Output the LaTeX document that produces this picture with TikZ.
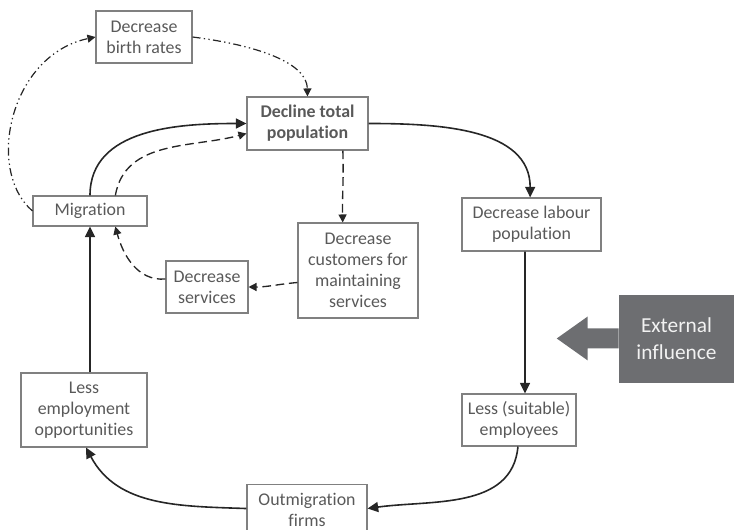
\documentclass[tikz,border=0pt]{standalone}
\usepackage{fontspec}
\setmainfont{Carlito}[Ligatures=NoCommon]
\usetikzlibrary{arrows.meta}
\definecolor{txtgray}{HTML}{595959}
\definecolor{boxgray}{HTML}{808080}
\definecolor{linegray}{HTML}{262626}
\definecolor{extgray}{HTML}{6D6E71}
\begin{document}
\begin{tikzpicture}[x=0.75pt,y=-0.75pt,
    box/.style={draw=boxgray,line width=0.8pt,rectangle,inner sep=0pt,
      align=center,text=txtgray,font=\fontsize{13.4}{15.75}\selectfont},
    solidarrow/.style={draw=linegray,line width=1.2pt,-{Triangle[length=8pt,width=7.5pt]}},
    dasharrow/.style={draw=linegray,line width=1pt,dash pattern=on 6.5pt off 3.5pt,
      -{Triangle[length=6pt,width=6pt]}},
    dotarrow/.style={draw=linegray,line width=0.9pt,
      dash pattern=on 6pt off 2.5pt on 1pt off 2.5pt on 1pt off 2.5pt,
      -{Triangle[length=6pt,width=6pt]}}]
  \useasboundingbox (0,0) rectangle (734,530);
  \node[box,minimum width=96*0.75pt,minimum height=52*0.75pt] (birth) at (144,37) {Decrease\\birth rates};
  \node[box,minimum width=121*0.75pt,minimum height=53*0.75pt,font=\fontsize{13.4}{15.75}\selectfont\bfseries] (decline) at (307.5,123.5) {Decline total\\population};
  \node[box,minimum width=114*0.75pt,minimum height=30*0.75pt] (migration) at (90,211) {Migration};
  \node[box,minimum width=82*0.75pt,minimum height=52*0.75pt] (services) at (207,287) {Decrease\\services};
  \node[box,minimum width=120*0.75pt,minimum height=95*0.75pt] (customers) at (358,270.5) {Decrease\\customers for\\maintaining\\services};
  \node[box,minimum width=139*0.75pt,minimum height=53*0.75pt] (labour) at (531.5,224.5) {Decrease labour\\population};
  \node[box,minimum width=114*0.75pt,minimum height=52*0.75pt] (employees) at (519,420) {Less (suitable)\\employees};
  \node[box,minimum width=126*0.75pt,minimum height=74*0.75pt] (employment) at (84,410) {Less\\employment\\opportunities};
  \node[box,minimum width=120*0.75pt,minimum height=48*0.75pt,anchor=north] (firms) at (307,484) {\rule{0pt}{13pt}Outmigration\\firms\vphantom{g}};
  % external influence
  \node[fill=extgray,minimum width=115*0.75pt,minimum height=88*0.75pt,inner sep=0pt,align=center,
    text=white!90!gray,font=\fontsize{16}{20}\selectfont] (ext) at (676.5,339) {External\\influence};
  \fill[extgray] ([yshift=7.9pt]ext.west) -- ++(-31,0) -- ++(0,-12) -- ++(-31,22)
    -- ++(31,22) -- ++(0,-12) -- ++(31,0) -- cycle;
  % main loop
  \draw[solidarrow] (decline.east) to[out=0,in=90] ([xshift=-1pt]labour.north);
  \draw[solidarrow] ([xshift=-4.9pt]labour.south) -- ([xshift=4.5pt]employees.north);
  \draw[solidarrow] ([xshift=-0.8pt]employees.south) to[out=-95,in=8] (firms.east);
  \draw[solidarrow] (firms.west) to[out=178,in=-62] ([xshift=1.5pt]employment.south);
  \draw[solidarrow] (employment.north -| migration.south) -- (migration.south);
  \draw[solidarrow] (migration.north) to[out=90,in=180] (decline.west);
  % services loop
  \draw[dasharrow] ([xshift=19pt]migration.north) to[out=80,in=195] ([yshift=-7.5pt]decline.west);
  \draw[dasharrow] ([xshift=26.5pt]decline.south) to[out=-88,in=91] ([xshift=-11.5pt]customers.north);
  \draw[dasharrow] ([yshift=-9pt]customers.west) to[out=185,in=0] (services.east);
  \draw[dasharrow] ([yshift=6pt]services.west) to[out=185,in=-75] ([xshift=19pt]migration.south);
  % birth rates loop
  \draw[dotarrow] (migration.west) .. controls (-15,170) and (10,55) .. (birth.west);
  \draw[dotarrow] (birth.east) .. controls (255,45) and (307,62) .. (decline.north);
\end{tikzpicture}
\end{document}
